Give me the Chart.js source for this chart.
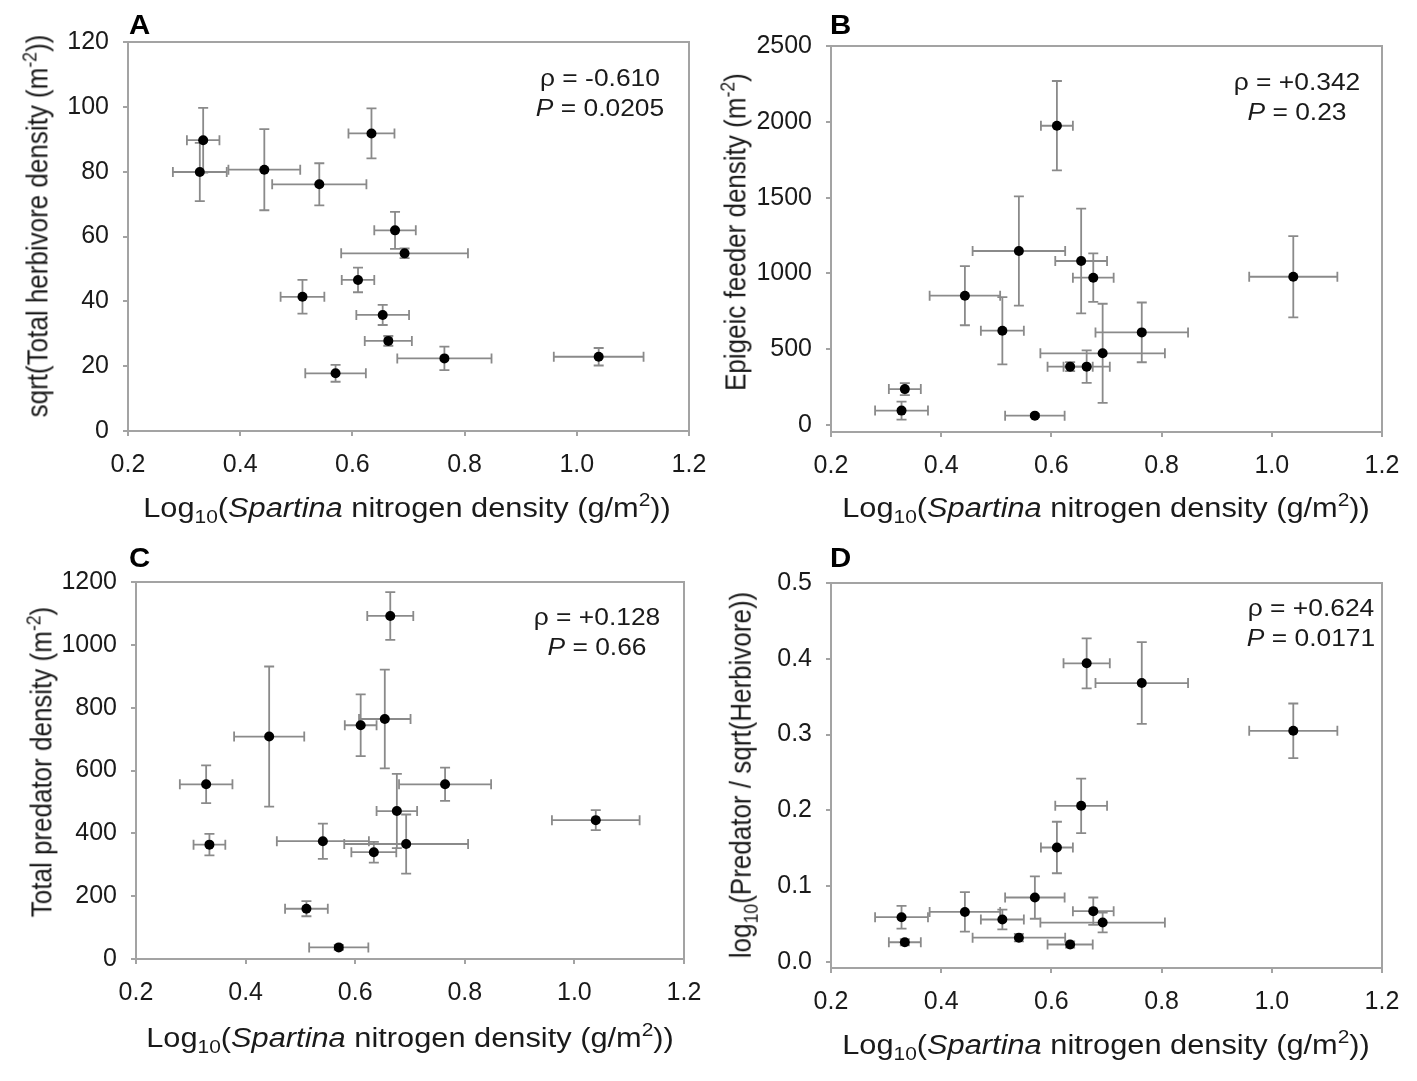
<!DOCTYPE html>
<html>
<head>
<meta charset="utf-8">
<script src="https://cdn.jsdelivr.net/npm/chart.js@4/dist/chart.umd.min.js"></script>
<style>
  html, body { margin:0; padding:0; background:#fff; }
  body { width:1417px; height:1081px; position:relative; overflow:hidden;
         font-family:"Liberation Sans", Arial, sans-serif; color:#1a1a1a; }
  canvas { position:absolute; }
  .lbl { position:absolute; white-space:nowrap; line-height:1; }
  .letter { font-weight:bold; font-size:28px; color:#000; transform-origin:0 0; transform:scaleX(1.05); }
  .xt { font-size:27px; transform:translate(-50%,-50%) scaleX(1.14); }
  .yt { font-size:26px; transform:translate(-50%,-50%) scaleX(1.15) rotate(-90deg); }
  .ann { font-size:24px; text-align:center; transform:translate(-50%,-50%) scaleX(1.1); line-height:30px; }
  sub { font-size:0.68em; vertical-align:-0.35em; line-height:0; }
  sup { font-size:0.68em; vertical-align:0.55em; line-height:0; }
</style>
</head>
<body>
<canvas id="cA"></canvas>
<canvas id="cB"></canvas>
<canvas id="cC"></canvas>
<canvas id="cD"></canvas>

<div class="lbl letter" style="left:129px;top:11px;">A</div>
<div class="lbl letter" style="left:830px;top:11px;">B</div>
<div class="lbl letter" style="left:129px;top:544px;">C</div>
<div class="lbl letter" style="left:830px;top:544px;">D</div>

<div class="lbl xt" style="left:407px;top:508px;">Log<sub>10</sub>(<i>Spartina</i> nitrogen density (g/m<sup>2</sup>))</div>
<div class="lbl xt" style="left:1106px;top:508px;">Log<sub>10</sub>(<i>Spartina</i> nitrogen density (g/m<sup>2</sup>))</div>
<div class="lbl xt" style="left:410px;top:1038px;">Log<sub>10</sub>(<i>Spartina</i> nitrogen density (g/m<sup>2</sup>))</div>
<div class="lbl xt" style="left:1106px;top:1045px;">Log<sub>10</sub>(<i>Spartina</i> nitrogen density (g/m<sup>2</sup>))</div>

<div class="lbl yt" style="left:37px;top:226px;">sqrt(Total herbivore density (m<sup>-2</sup>))</div>
<div class="lbl yt" style="left:735px;top:232px;">Epigeic feeder density (m<sup>-2</sup>)</div>
<div class="lbl yt" style="left:41px;top:762px;">Total predator density (m<sup>-2</sup>)</div>
<div class="lbl yt" style="left:740px;top:775px;">log<sub>10</sub>(Predator / sqrt(Herbivore))</div>

<div class="lbl ann" style="left:600px;top:93px;">&rho; = -0.610<br><i>P</i> = 0.0205</div>
<div class="lbl ann" style="left:1297px;top:97px;">&rho; = +0.342<br><i>P</i> = 0.23</div>
<div class="lbl ann" style="left:597px;top:632px;">&rho; = +0.128<br><i>P</i> = 0.66</div>
<div class="lbl ann" style="left:1311px;top:623px;">&rho; = +0.624<br><i>P</i> = 0.0171</div>

<script>
// ---- shared x data (Log10 Spartina nitrogen density), 14 sites ----
const siteX = [0.328, 0.334, 0.443, 0.511, 0.541, 0.570, 0.610, 0.634, 0.654, 0.664, 0.676, 0.693, 0.764, 1.039];
const siteXErr = [0.048, 0.029, 0.064, 0.039, 0.084, 0.054, 0.029, 0.041, 0.047, 0.042, 0.037, 0.113, 0.084, 0.080];
const xTicks = [0.2, 0.4, 0.6, 0.8, 1.0, 1.2];

// ---- Panel A: sqrt(Total herbivore density) ----
const herbY   = [79.9, 89.7, 80.6, 41.4, 76.1, 17.8, 46.6, 91.8, 35.8, 27.8, 61.9, 54.8, 22.4, 22.9];
const herbErr = [9.0, 10.0, 12.5, 5.2, 6.5, 2.6, 3.8, 7.7, 3.1, 1.5, 5.7, 1.5, 3.6, 2.7];
const herbTicks = [0, 20, 40, 60, 80, 100, 120];

// ---- Panel B: Epigeic feeder density ----
const epiY   = [95, 237, 853, 622, 1148, 62, 1974, 385, 1082, 385, 972, 473, 611, 978];
const epiErr = [60, 40, 195, 222, 360, 10, 295, 30, 346, 107, 160, 327, 197, 268];
const epiTicks = [0, 500, 1000, 1500, 2000, 2500];

// ---- Panel C: Total predator density ----
const predY   = [556, 364, 708, 160, 375, 37, 744, 340, 764, 1092, 471, 366, 556, 442];
const predErr = [60, 34, 223, 24, 56, 8, 98, 33, 157, 76, 118, 94, 53, 32];
const predTicks = [0, 200, 400, 600, 800, 1000, 1200];

// ---- Panel D: log10(Predator / sqrt(Herbivore)) ----
const ratioY   = [0.059, 0.026, 0.066, 0.056, 0.032, 0.085, 0.151, 0.023, 0.206, 0.394, 0.067, 0.052, 0.368, 0.305];
const ratioErr = [0.015, 0.004, 0.026, 0.013, 0.005, 0.028, 0.034, 0.004, 0.036, 0.033, 0.018, 0.013, 0.054, 0.036];
const ratioTicks = [0.0, 0.1, 0.2, 0.3, 0.4, 0.5];

const FONT = '"Liberation Sans", Arial, sans-serif';
const AXIS_COLOR = '#a3a3a3';
const ERR_COLOR = '#8a8a8a';

const errorBarPlugin = {
  id: 'errorBars',
  beforeDatasetsDraw(chart) {
    const ctx = chart.ctx, xs = chart.scales.x, ys = chart.scales.y;
    const ds = chart.data.datasets[0];
    const cap = 5;
    ctx.save();
    ctx.strokeStyle = ERR_COLOR;
    ctx.lineWidth = 1.8;
    ds.data.forEach((p, i) => {
      const px = xs.getPixelForValue(p.x), py = ys.getPixelForValue(p.y);
      const xl = xs.getPixelForValue(p.x - ds.xErr[i]), xr = xs.getPixelForValue(p.x + ds.xErr[i]);
      const yt = ys.getPixelForValue(p.y + ds.yErr[i]), yb = ys.getPixelForValue(p.y - ds.yErr[i]);
      ctx.beginPath();
      ctx.moveTo(xl, py); ctx.lineTo(xr, py);
      ctx.moveTo(xl, py - cap); ctx.lineTo(xl, py + cap);
      ctx.moveTo(xr, py - cap); ctx.lineTo(xr, py + cap);
      ctx.moveTo(px, yt); ctx.lineTo(px, yb);
      ctx.moveTo(px - cap, yt); ctx.lineTo(px + cap, yt);
      ctx.moveTo(px - cap, yb); ctx.lineTo(px + cap, yb);
      ctx.stroke();
    });
    ctx.restore();
  }
};

const framePlugin = {
  id: 'frame',
  afterDraw(chart) {
    const a = chart.chartArea, ctx = chart.ctx;
    ctx.save();
    ctx.strokeStyle = AXIS_COLOR;
    ctx.lineWidth = 2;
    ctx.beginPath();
    ctx.moveTo(a.left, a.top); ctx.lineTo(a.right, a.top); ctx.lineTo(a.right, a.bottom);
    ctx.stroke();
    ctx.restore();
  }
};

function makePanel(id, pos, area, ys, yErr, yTicks, yMin, yDec) {
  const cv = document.getElementById(id);
  cv.style.left = pos.left + 'px';
  cv.style.top = pos.top + 'px';
  cv.width = pos.w; cv.height = pos.h;
  cv.style.width = pos.w + 'px'; cv.style.height = pos.h + 'px';
  const pts = siteX.map((x, i) => ({ x: x, y: ys[i] }));
  new Chart(cv, {
    type: 'scatter',
    data: { datasets: [{ data: pts, xErr: siteXErr, yErr: yErr,
      backgroundColor: '#000', borderColor: '#000', borderWidth: 0,
      pointRadius: 5, pointHoverRadius: 5 }] },
    options: {
      responsive: false, animation: false, devicePixelRatio: 1,
      layout: { padding: { top: area.top, right: pos.w - area.right, left: 0, bottom: 0 } },
      plugins: { legend: { display: false }, tooltip: { enabled: false } },
      scales: {
        x: {
          type: 'linear', min: 0.2, max: 1.2,
          afterBuildTicks: s => { s.ticks = xTicks.map(v => ({ value: v })); },
          afterFit: s => { s.height = pos.h - area.bottom; s.paddingLeft = 0; s.paddingRight = 0; },
          ticks: { callback: v => Number(v).toFixed(1), color: '#1a1a1a',
                   font: { family: FONT, size: 25 }, padding: 14, maxRotation: 0 },
          grid: { drawOnChartArea: false, drawTicks: true, tickLength: 5, color: AXIS_COLOR, lineWidth: 2 },
          border: { display: true, color: AXIS_COLOR, width: 2 }
        },
        y: {
          type: 'linear', min: yMin, max: yTicks[yTicks.length - 1],
          afterBuildTicks: s => { s.ticks = yTicks.map(v => ({ value: v })); },
          afterFit: s => { s.width = area.left; s.paddingTop = 0; s.paddingBottom = 0; },
          ticks: { callback: v => Number(v).toFixed(yDec), color: '#1a1a1a',
                   font: { family: FONT, size: 25 }, padding: 14 },
          grid: { drawOnChartArea: false, drawTicks: true, tickLength: 5, color: AXIS_COLOR, lineWidth: 2 },
          border: { display: true, color: AXIS_COLOR, width: 2 }
        }
      }
    },
    plugins: [errorBarPlugin, framePlugin]
  });
}

makePanel('cA', { left: 0, top: 0, w: 708, h: 540 }, { left: 128, top: 42, right: 689, bottom: 431 },
          herbY, herbErr, herbTicks, 0, 0);
makePanel('cB', { left: 708, top: 0, w: 709, h: 540 }, { left: 123, top: 46, right: 674, bottom: 432 },
          epiY, epiErr, epiTicks, -46, 0);
makePanel('cC', { left: 0, top: 540, w: 708, h: 541 }, { left: 136, top: 42, right: 684, bottom: 419 },
          predY, predErr, predTicks, 0, 0);
makePanel('cD', { left: 708, top: 540, w: 709, h: 541 }, { left: 123, top: 43, right: 674, bottom: 428 },
          ratioY, ratioErr, ratioTicks, -0.008, 1);
</script>
</body>
</html>
